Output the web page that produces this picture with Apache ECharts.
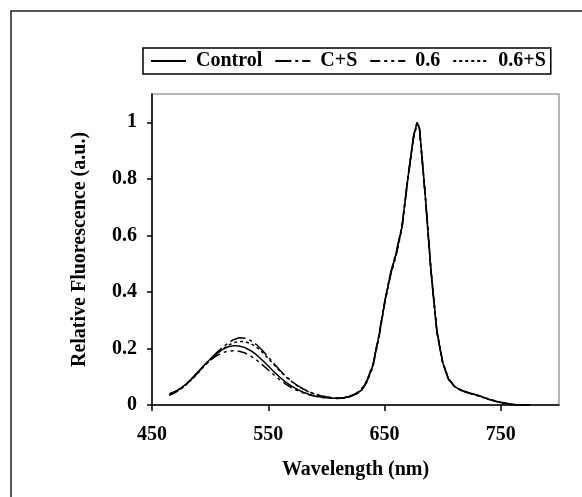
<!DOCTYPE html>
<html>
<head>
<meta charset="utf-8">
<script src="https://cdn.jsdelivr.net/npm/echarts@6/dist/echarts.min.js"></script>
<style>
  html, body { margin: 0; padding: 0; background: #fff; }
  #chart { width: 582px; height: 497px; }
</style>
</head>
<body>
<div id="chart"></div>
<script>
// wavelength (nm) shared by every spectrum
var wavelengths = [465,470,475,480,485,490,495,500,505,510,515,520,525,530,535,540,545,550,555,560,
  565,570,575,580,585,590,595,600,605,610,615,620,625,630,635,640,645,650,655,660,
  665,670,675,678,680,685,690,695,700,705,710,715,720,725,730,735,740,745,750,755,
  760,765,770,775];

var control = [.038,.047,.060,.077,.097,.119,.141,.162,.180,.195,.205,.210,.209,.203,.192,.177,.158,.138,.117,.098,
  .081,.067,.055,.045,.038,.032,.028,.026,.024,.024,.026,.030,.038,.052,.085,.140,.240,.360,.460,.535,
  .630,.800,.950,1.00,.980,.740,.470,.260,.150,.092,.066,.054,.046,.040,.034,.027,.020,.014,.009,.005,
  .002,.001,0,0];
var cs = [.040,.048,.060,.076,.095,.117,.140,.162,.183,.202,.218,.231,.238,.236,.228,.213,.193,.170,.146,.123,
  .102,.084,.069,.057,.047,.039,.033,.029,.026,.025,.026,.031,.040,.055,.088,.145,.245,.365,.465,.540,
  .635,.805,.955,1.00,.975,.735,.465,.255,.148,.090,.065,.053,.045,.039,.033,.026,.019,.013,.008,.004,
  .002,.001,0,0];
var c06 = [.034,.044,.057,.075,.096,.118,.139,.158,.173,.184,.190,.192,.190,.184,.173,.159,.142,.124,.106,.089,
  .074,.061,.051,.043,.036,.031,.027,.025,.024,.023,.025,.029,.037,.050,.082,.136,.235,.355,.455,.530,
  .625,.795,.945,.995,.985,.745,.475,.265,.152,.094,.067,.055,.047,.041,.035,.028,.021,.015,.010,.006,
  .003,.001,0,0];
var c06s = [.036,.046,.058,.074,.093,.115,.138,.158,.178,.196,.210,.220,.225,.224,.217,.204,.186,.165,.142,.120,
  .100,.083,.068,.056,.046,.038,.032,.028,.025,.024,.025,.030,.039,.053,.086,.142,.242,.362,.462,.538,
  .632,.802,.952,.998,.978,.742,.472,.262,.150,.091,.066,.054,.046,.040,.034,.027,.020,.014,.009,.005,
  .002,.001,0,0];

var names = ['Control', 'C+S', '0.6', '0.6+S'];
var dashes = ['solid', [16, 4, 3, 4], [10, 4, 3, 4, 3, 4], [3, 3]];
var yTicks = [0, 0.2, 0.4, 0.6, 0.8, 1];
var xTicks = [450, 550, 650, 750];

function pairs(vals) {
  return wavelengths.map(function (w, i) { return [w, vals[i]]; });
}

var font = '"Liberation Serif", "Times New Roman", serif';
var myChart = echarts.init(document.getElementById('chart'));
var option = {
  animation: false,
  backgroundColor: '#fff',
  textStyle: { fontFamily: font },
  graphic: [{
    // outer frame, only top and left edges fall inside the picture
    type: 'polyline',
    shape: { points: [[11, 540], [11, 11], [620, 11]] },
    style: { fill: 'none', stroke: '#222', lineWidth: 1.5 },
    silent: true
  }],
  legend: {
    left: 143, top: 48,
    padding: [3, 5, 3, 7],
    itemWidth: 35, itemHeight: 14, itemGap: 12,
    borderColor: '#000', borderWidth: 1.5,
    itemStyle: { opacity: 0 },
    textStyle: { fontFamily: font, fontWeight: 'bold', fontSize: 20, color: '#000', padding: [0, 0, 0, 5] },
    data: names
  },
  grid: {
    left: 152, top: 94, right: 23, bottom: 92,
    show: true, borderColor: '#a0a0a0', borderWidth: 1.5
  },
  xAxis: {
    type: 'value', min: 450, max: 800, interval: 100,
    name: 'Wavelength (nm)', nameLocation: 'middle', nameGap: 55,
    nameTextStyle: { fontFamily: font, fontWeight: 'bold', fontSize: 20, color: '#000' },
    axisLine: { lineStyle: { color: '#000', width: 1.5 } },
    axisTick: { length: 6, lineStyle: { color: '#000', width: 1.5 }, customValues: xTicks },
    axisLabel: { margin: 20, fontFamily: font, fontWeight: 'bold', fontSize: 20, color: '#000', customValues: xTicks },
    splitLine: { show: false }
  },
  yAxis: {
    type: 'value', min: 0, max: 1.1, interval: 0.2,
    name: 'Relative Fluorescence (a.u.)', nameLocation: 'middle', nameGap: 62,
    nameTextStyle: { fontFamily: font, fontWeight: 'bold', fontSize: 20, color: '#000' },
    axisLine: { show: true, lineStyle: { color: '#000', width: 1.5 } },
    axisTick: { show: true, length: 5, lineStyle: { color: '#000', width: 1.5 }, customValues: yTicks },
    axisLabel: { margin: 15, fontFamily: font, fontWeight: 'bold', fontSize: 20, color: '#000', customValues: yTicks },
    splitLine: { show: false }
  },
  series: [control, cs, c06, c06s].map(function (vals, i) {
    return {
      name: names[i],
      type: 'line',
      symbol: 'none',
      color: '#000',
      lineStyle: { color: '#000', width: 1.5, type: dashes[i] },
      data: pairs(vals)
    };
  })
};
myChart.setOption(option);
</script>
</body>
</html>
